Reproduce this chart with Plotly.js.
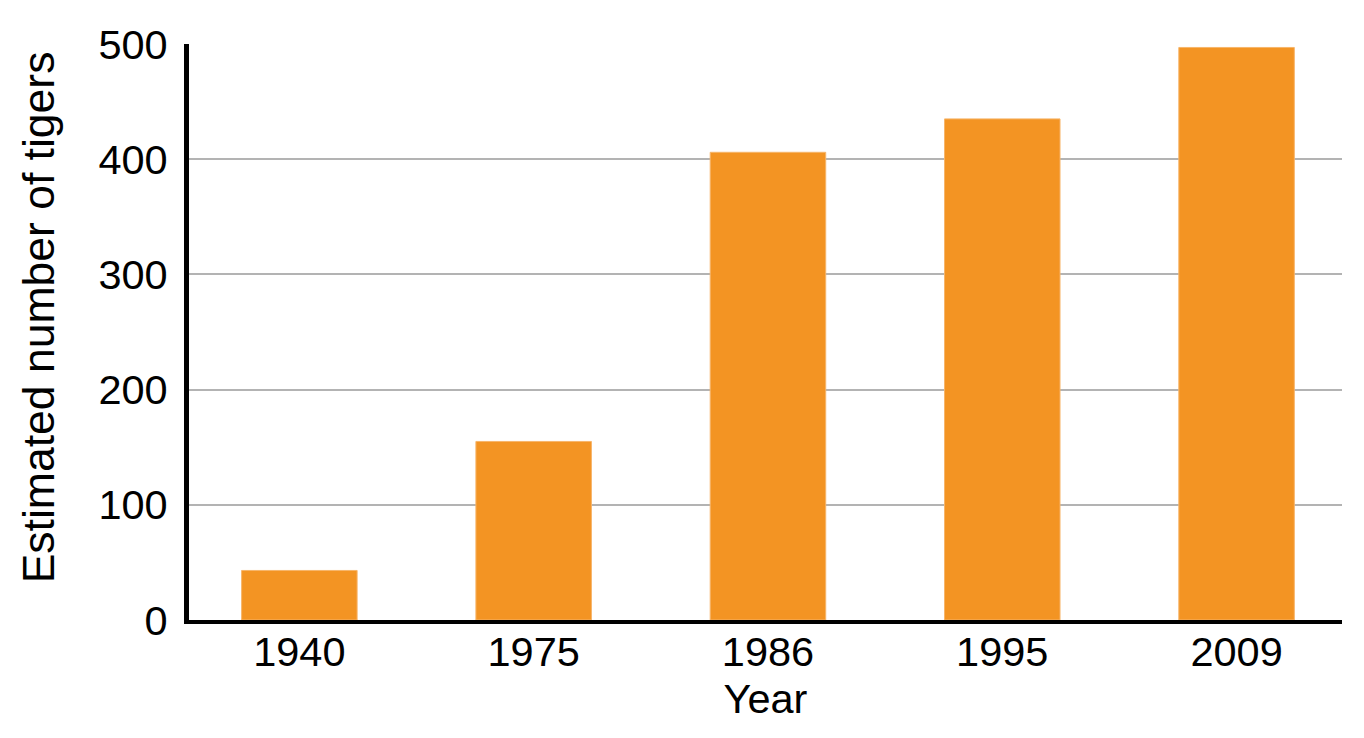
<!DOCTYPE html>
<html>
<head>
<meta charset="utf-8">
<script src="https://cdn.plot.ly/plotly-3.0.1.min.js"></script>
<style>html,body{margin:0;padding:0;background:#fff;}#chart{width:1364px;height:738px;}</style>
</head>
<body>
<div id="chart"></div>
<script>
const years = ["1940", "1975", "1986", "1995", "2009"];
const tigers = [43, 155, 406, 435, 497];
const yTicks = [0, 100, 200, 300, 400, 500];
const yTitle = "Estimated number of tigers";
const xTitle = "Year";

const plotL = 188.5, plotR = 1342, plotT = 43.5, plotB = 620;

const trace = {
  type: "bar",
  x: years,
  y: tigers,
  width: 0.493,
  marker: {color: "#F39423", line: {color: "#F7B56A", width: 1}},
  hoverinfo: "x+y"
};

const layout = {
  width: 1364,
  height: 738,
  margin: {l: plotL, r: 1364 - plotR, t: plotT, b: 738 - plotB},
  paper_bgcolor: "#ffffff",
  plot_bgcolor: "#ffffff",
  showlegend: false,
  font: {family: "Liberation Sans, Arial, sans-serif", color: "#000000", size: 41},
  xaxis: {
    type: "category",
    range: [-0.471, 4.45],
    showline: true,
    linecolor: "#000000",
    linewidth: 4,
    ticks: "",
    ticklabelstandoff: -8,
    showgrid: false,
    tickfont: {size: 41.5},
    title: {text: xTitle, font: {size: 41.5}, standoff: 0},
    fixedrange: true
  },
  yaxis: {
    range: [0, 500],
    tickvals: yTicks,
    showline: true,
    linecolor: "#000000",
    linewidth: 5,
    ticks: "outside",
    ticklen: 8,
    tickcolor: "rgba(0,0,0,0)",
    showgrid: true,
    gridcolor: "#b3b3b3",
    gridwidth: 2,
    zeroline: false,
    tickfont: {size: 41.5},
    fixedrange: true
  },
  annotations: [{
    text: yTitle,
    textangle: -90,
    xref: "paper", yref: "paper",
    x: (38 - plotL) / (plotR - plotL),
    y: (plotB - 317.5) / (plotB - plotT),
    xanchor: "center", yanchor: "middle",
    showarrow: false,
    font: {size: 44.5, color: "#000000"}
  }]
};

Plotly.newPlot("chart", [trace], layout, {displayModeBar: false, staticPlot: true});
</script>
</body>
</html>
